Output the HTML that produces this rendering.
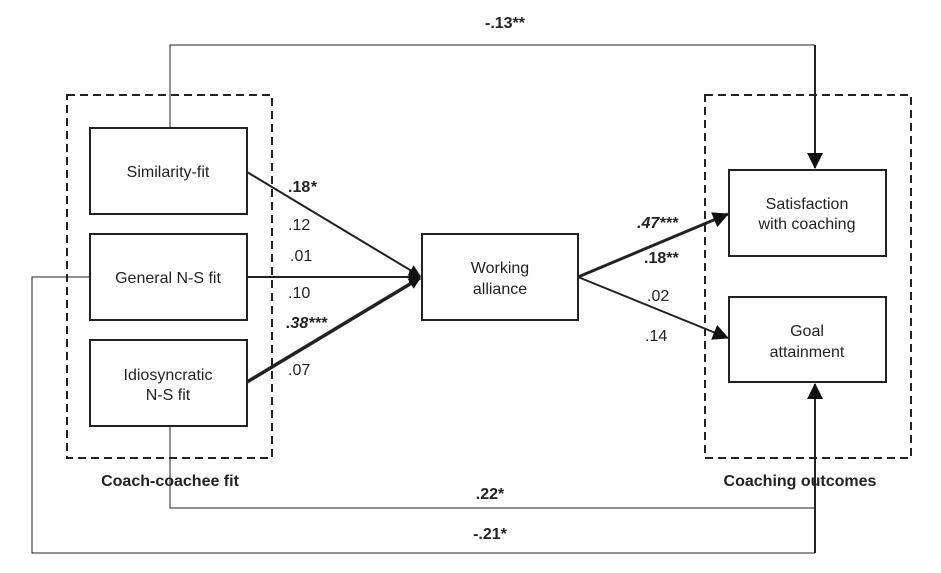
<!DOCTYPE html>
<html><head><style>
body{margin:0;background:#fff;}
svg{display:block;font-family:"Liberation Sans",Arial,sans-serif;}
</style></head><body>
<svg width="941" height="573" viewBox="0 0 941 573">
<defs>
<marker id="a" markerWidth="12" markerHeight="12" refX="11" refY="6" orient="auto" markerUnits="userSpaceOnUse"><path d="M0,0 L12,6 L0,12 z" fill="#111"/></marker>
<marker id="b" markerWidth="16" markerHeight="16" refX="15" refY="8" orient="auto" markerUnits="userSpaceOnUse"><path d="M0,0 L16,8 L0,16 z" fill="#111"/></marker>
</defs>
<g fill="none" stroke="#222">
<rect x="67" y="95" width="205" height="363" stroke-width="2" stroke-dasharray="8,5"/>
<rect x="705" y="95" width="206" height="363" stroke-width="2" stroke-dasharray="8,5"/>
<polyline points="170,128 170,45 815,45" stroke-width="1"/>
<polyline points="170,426 170,508 815,508" stroke-width="1"/>
<polyline points="90,277 32,277 32,553 815,553" stroke-width="1"/>
<line x1="815" y1="553" x2="815" y2="384" stroke-width="2" marker-end="url(#b)"/>
<line x1="815" y1="45" x2="815" y2="168" stroke-width="2" marker-end="url(#b)"/>
<line x1="247" y1="172" x2="420" y2="276" stroke-width="2" marker-end="url(#a)"/>
<line x1="247" y1="277" x2="420" y2="277" stroke-width="2" marker-end="url(#a)"/>
<line x1="247" y1="382" x2="420" y2="278" stroke-width="3.5" marker-end="url(#a)"/>
<line x1="578" y1="277" x2="728" y2="214" stroke-width="3" marker-end="url(#b)"/>
<line x1="578" y1="277" x2="728" y2="338" stroke-width="2" marker-end="url(#b)"/>
<g stroke-width="2" fill="#fff">
<rect x="90" y="128" width="157" height="86"/>
<rect x="90" y="234" width="157" height="86"/>
<rect x="90" y="340" width="157" height="86"/>
<rect x="422" y="234" width="156" height="86"/>
<rect x="729" y="170" width="157" height="86"/>
<rect x="729" y="297" width="157" height="85"/>
</g>
</g>
<g font-size="16" fill="#222" text-anchor="middle">
<text x="168" y="177">Similarity-fit</text>
<text x="168" y="283">General N-S fit</text>
<text x="168" y="380">Idiosyncratic</text>
<text x="168" y="400">N-S fit</text>
<text x="500" y="273">Working</text>
<text x="500" y="294">alliance</text>
<text x="807" y="209">Satisfaction</text>
<text x="807" y="229">with coaching</text>
<text x="807" y="336">Goal</text>
<text x="807" y="357">attainment</text>
</g>
<g font-size="16" fill="#222" font-weight="bold" text-anchor="middle">
<text x="170" y="486">Coach-coachee fit</text>
<text x="800" y="486">Coaching outcomes</text>
<text x="505" y="28">-.13**</text>
<text x="490" y="499">.22*</text>
<text x="490" y="539">-.21*</text>
</g>
<g font-size="16" fill="#222">
<text x="288" y="192" font-weight="bold">.18<tspan font-style="italic">*</tspan></text>
<text x="288" y="230">.12</text>
<text x="290" y="261">.01</text>
<text x="288" y="298">.10</text>
<text x="286" y="328" font-weight="bold" font-style="italic">.38***</text>
<text x="288" y="375">.07</text>
<text x="637" y="228" font-weight="bold" font-style="italic">.47***</text>
<text x="644" y="263" font-weight="bold">.18**</text>
<text x="647" y="301">.02</text>
<text x="645" y="341">.14</text>
</g>
</svg>
</body></html>
